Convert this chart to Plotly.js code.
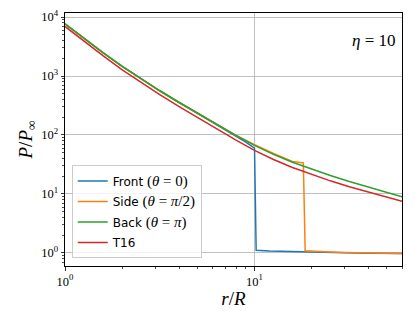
<!DOCTYPE html>
<html><head><meta charset="utf-8">
<script src="https://cdn.plot.ly/plotly-3.0.1.min.js"></script>
<style>html,body{margin:0;padding:0;background:#fff}#chart{width:415px;height:311px}</style>
</head><body><div id="chart"></div>
<script>
// r/R values and P/P_inf values
const rGrid  = [1, 1.259, 1.585, 1.995, 2.512, 3.162, 3.981, 5.012, 6.310, 7.943, 10, 12.59, 15.85, 19.95, 25.12, 31.62, 39.81, 50.12, 60];
const pBack  = [7691, 4345, 2500, 1472, 895, 562, 359, 232, 151, 99.5, 66.8, 47.0, 34.5, 26.3, 20.6, 16.3, 13.1, 10.6, 8.97];
const pT16   = [6918, 3873, 2208, 1288, 776, 483, 305, 195, 126, 82.4, 55.0, 38.4, 28.1, 21.4, 16.7, 13.3, 10.8, 8.79, 7.55];
const rFront = [1, 1.259, 1.585, 1.995, 2.512, 3.162, 3.981, 5.012, 6.310, 7.943, 9, 10, 10.2, 12, 16, 20, 30, 40, 60];
const pFront = [7691, 4345, 2500, 1472, 895, 562, 359, 232, 151, 99.5, 76, 60, 1.11, 1.08, 1.05, 1.03, 1.01, 0.99, 0.98];
const rSide  = [1, 1.259, 1.585, 1.995, 2.512, 3.162, 3.981, 5.012, 6.310, 7.943, 10, 12.59, 15.85, 16.4, 17.8, 18.1, 18.5, 20, 25, 30, 40, 60];
const pSide  = [7691, 4345, 2500, 1472, 895, 562, 359, 232, 151, 99.5, 68.5, 48.6, 35.7, 35.1, 34.3, 33.6, 1.09, 1.07, 1.04, 1.02, 1.0, 0.98];
const mathStyle = "font-family:Liberation Serif;font-size:15px";
const names  = ["Front <span style='" + mathStyle + "'>(<i>θ</i> = 0)</span>",
                "Side <span style='" + mathStyle + "'>(<i>θ</i> = <i>π</i>/2)</span>",
                "Back <span style='" + mathStyle + "'>(<i>θ</i> = <i>π</i>)</span>",
                "T16"];
const colors = ["#1f77b4", "#ff7f0e", "#2ca02c", "#d62728"];
const xTickVals = [1, 10];
const xTickText = ["10<sup>0</sup>", "10<sup>1</sup>"];
const yTickVals = [1, 10, 100, 1000, 10000];
const yTickText = ["10<sup>0</sup>", "10<sup>1</sup>", "10<sup>2</sup>", "10<sup>3</sup>", "10<sup>4</sup>"];
const xMinor = [2, 3, 4, 5, 6, 7, 8, 9, 20, 30, 40, 50, 60];
const yMinor = [0.7, 0.8, 0.9, 2, 3, 4, 5, 6, 7, 8, 9, 20, 30, 40, 50, 60, 70, 80, 90,
                200, 300, 400, 500, 600, 700, 800, 900, 2000, 3000, 4000, 5000, 6000, 7000, 8000, 9000];

const xs = [rFront, rSide, rGrid, rGrid];
const ys = [pFront, pSide, pBack, pT16];
const traces = xs.map((x, i) => ({
  x: x, y: ys[i], type: 'scatter', mode: 'lines', name: names[i], legendgroup: 'g' + i,
  line: {color: colors[i], width: 1.5}
}));

const serif = 'Liberation Serif, DejaVu Serif, serif';
const axisCommon = {
  type: 'log', showline: true, linecolor: '#000', linewidth: 1, mirror: true,
  ticks: 'outside', ticklen: 3.5, tickcolor: '#000', tickwidth: 0.8,
  showgrid: true, gridcolor: '#b0b0b0', gridwidth: 0.8, zeroline: false,
  tickfont: {family: serif, size: 12.5, color: '#000'}
};
const layout = {
  width: 415, height: 311,
  margin: {l: 65, r: 13, t: 13, b: 45},
  paper_bgcolor: '#fff', plot_bgcolor: '#fff',
  showlegend: true,
  legend: {x: 0.02, y: 0.03, xanchor: 'left', yanchor: 'bottom', tracegroupgap: 1.5,
           bgcolor: 'rgba(255,255,255,0.8)', bordercolor: '#cccccc', borderwidth: 1,
           font: {family: 'DejaVu Sans, sans-serif', size: 12, color: '#000'}},
  xaxis: Object.assign({}, axisCommon, {
    range: [0, Math.log10(60)], tickvals: xTickVals, ticktext: xTickText,
    minor: {tickmode: 'array', tickvals: xMinor, ticks: 'outside', ticklen: 2, tickcolor: '#000', tickwidth: 0.7, showgrid: false},
    title: {text: '<i>r</i>/<i>R</i>', font: {family: serif, size: 19, color: '#000'}, standoff: 4}
  }),
  yaxis: Object.assign({}, axisCommon, {
    range: [-0.221, 4.068], tickvals: yTickVals, ticktext: yTickText,
    minor: {tickmode: 'array', tickvals: yMinor, ticks: 'outside', ticklen: 2, tickcolor: '#000', tickwidth: 0.7, showgrid: false},
    title: {text: '<i>P</i>/<i>P</i><sub>∞</sub>', font: {family: serif, size: 19, color: '#000'}, standoff: 3}
  }),
  annotations: [{
    xref: 'paper', yref: 'paper', x: 0.988, y: 0.89, xanchor: 'right', yanchor: 'middle',
    showarrow: false, text: '<i>η</i> = 10', font: {family: serif, size: 17, color: '#000'}
  }]
};
Plotly.newPlot('chart', traces, layout, {staticPlot: true, displayModeBar: false});
</script>
</body></html>
